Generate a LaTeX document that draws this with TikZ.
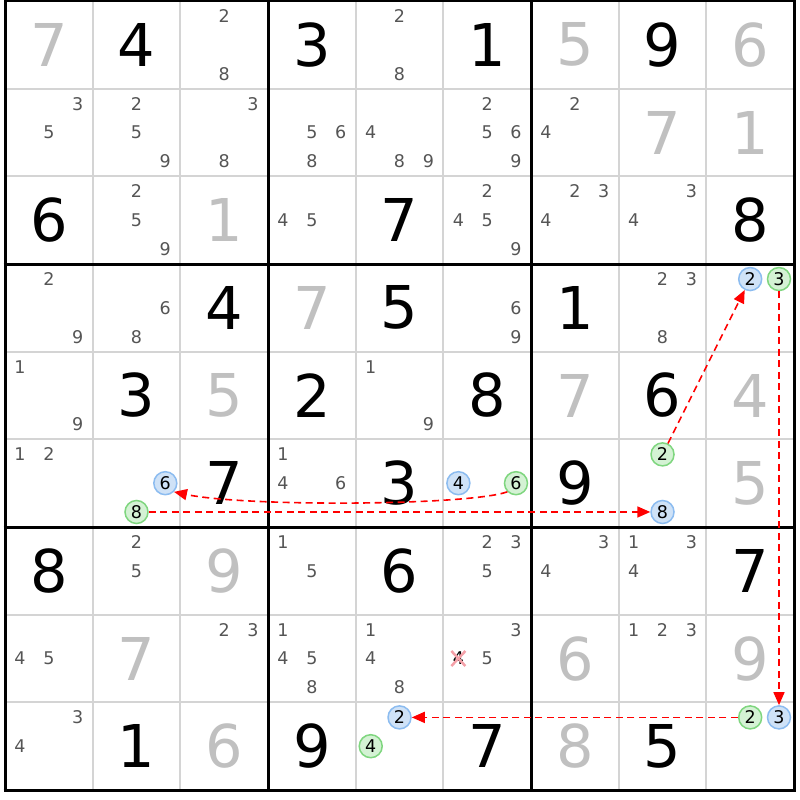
\documentclass[tikz,border=0pt]{standalone}
\usepackage{fontspec}
\setmainfont{DejaVu Sans}
\usetikzlibrary{arrows.meta,calc}
\definecolor{candc}{RGB}{85,85,85}
\definecolor{solvedc}{RGB}{192,192,192}
\definecolor{thinc}{RGB}{212,212,212}
\definecolor{bluef}{RGB}{207,226,247}
\definecolor{blued}{RGB}{140,188,240}
\definecolor{greenf}{RGB}{212,242,212}
\definecolor{greend}{RGB}{127,214,127}
\definecolor{xpink}{RGB}{244,160,168}
\definecolor{linkred}{RGB}{255,0,0}
\tikzset{
  x=1pt, y=-1pt,
  given/.style={inner sep=0pt, font=\fontsize{59}{60}\selectfont, text=black},
  solved/.style={inner sep=0pt, font=\fontsize{59}{60}\selectfont, text=solvedc},
  cand/.style={inner sep=0pt, font=\fontsize{17.5}{18}\selectfont, text=candc},
  hblue/.style={circle, inner sep=0pt, minimum size=23pt, fill=bluef, draw=blued, line width=1.5pt, font=\fontsize{17.5}{18}\selectfont},
  hgreen/.style={circle, inner sep=0pt, minimum size=23pt, fill=greenf, draw=greend, line width=1.5pt, font=\fontsize{17.5}{18}\selectfont},
  thinline/.style={draw=thinc, line width=2pt},
  thickline/.style={draw=black, line width=3pt},
  link/.style={draw=linkred, line width=1.6pt, dash pattern=on 7pt off 4.5pt, -{Triangle[length=13pt,width=11pt]}},
  xmark/.style={draw=xpink, line width=2.5pt}
}
\begin{document}
\begin{tikzpicture}
\useasboundingbox (0,0) rectangle (800,800);
\fill[white] (0,0) rectangle (800,800);
% thin grid lines
\foreach \i in {1,2,4,5,7,8}{
  \draw[thinline] ({5+\i*87.67},1) -- ({5+\i*87.67},790);
  \draw[thinline] (5,{1+\i*87.67}) -- (794,{1+\i*87.67});
}
% thick lines
\foreach \i in {0,3,6,9}{
  \draw[thickline] ({5+\i*87.67},-0.5) -- ({5+\i*87.67},791.5);
  \draw[thickline] (3.5,{1+\i*87.67}) -- (795.5,{1+\i*87.67});
}
% givens
\foreach \r/\c/\d in {0/1/4,0/3/3,0/5/1,0/7/9,2/0/6,2/4/7,2/8/8,3/2/4,3/4/5,3/6/1,4/1/3,4/3/2,4/5/8,4/7/6,5/2/7,5/4/3,5/6/9,6/0/8,6/4/6,6/8/7,8/1/1,8/3/9,8/5/7,8/7/5}
  \node[given] (v\r\c) at ({5+(\c+0.5)*87.67},{1+(\r+0.5)*87.67}) {\d};
% solved
\foreach \r/\c/\d in {0/0/7,0/6/5,0/8/6,1/7/7,1/8/1,2/2/1,3/3/7,4/2/5,4/6/7,4/8/4,5/8/5,6/2/9,7/1/7,7/6/6,7/8/9,8/2/6,8/6/8}
  \node[solved] (v\r\c) at ({5+(\c+0.5)*87.67},{1+(\r+0.5)*87.67}) {\d};
% candidates
\foreach \r/\c/\d in {0/2/2,0/2/8,0/4/2,0/4/8,
  1/0/3,1/0/5,1/1/2,1/1/5,1/1/9,1/2/3,1/2/8,1/3/5,1/3/6,1/3/8,1/4/4,1/4/8,1/4/9,1/5/2,1/5/5,1/5/6,1/5/9,1/6/2,1/6/4,
  2/1/2,2/1/5,2/1/9,2/3/4,2/3/5,2/5/2,2/5/4,2/5/5,2/5/9,2/6/2,2/6/3,2/6/4,2/7/3,2/7/4,
  3/0/2,3/0/9,3/1/6,3/1/8,3/5/6,3/5/9,3/7/2,3/7/3,3/7/8,
  4/0/1,4/0/9,4/4/1,4/4/9,
  5/0/1,5/0/2,5/3/1,5/3/4,5/3/6,
  6/1/2,6/1/5,6/3/1,6/3/5,6/5/2,6/5/3,6/5/5,6/6/3,6/6/4,6/7/1,6/7/3,6/7/4,
  7/0/4,7/0/5,7/2/2,7/2/3,7/3/1,7/3/4,7/3/5,7/3/8,7/4/1,7/4/4,7/4/8,7/5/3,7/5/5,7/7/1,7/7/2,7/7/3,
  8/0/3,8/0/4}
  \node[cand] (k\r\c\d) at ({5+(\c+0.5)*87.67+(mod(\d-1,3)-1)*28.8},{1+(\r+0.5)*87.67+(floor((\d-1)/3)-1)*28.8}) {\d};
% eliminated candidate
\node[cand, text=black] (k754) at ({5+5.5*87.67-28.8},{1+7.5*87.67}) {4};
\draw[xmark] ($(k754)+(-7,-7.5)$) -- ($(k754)+(7,7.5)$);
\draw[xmark] ($(k754)+(-7,7.5)$) -- ($(k754)+(7,-7.5)$);
% highlighted candidates
\foreach \r/\c/\d/\s in {3/8/2/hblue,3/8/3/hgreen,5/1/6/hblue,5/1/8/hgreen,5/5/4/hblue,5/5/6/hgreen,5/7/2/hgreen,5/7/8/hblue,8/4/2/hblue,8/4/4/hgreen,8/8/2/hgreen,8/8/3/hblue}
  \node[\s] (h\r\c\d) at ({5+(\c+0.5)*87.67+(mod(\d-1,3)-1)*28.8},{1+(\r+0.5)*87.67+(floor((\d-1)/3)-1)*28.8}) {\d};
% links
\draw[link] (h518) -- (h578);
\draw[link] (h556.south west) .. controls +(-40,14) and +(70,15) .. (h516.south east);
\draw[link] (h572) -- (h382);
\draw[link] (h383) -- (h883);
\draw[link] (h882) -- (h842);
\end{tikzpicture}
\end{document}
